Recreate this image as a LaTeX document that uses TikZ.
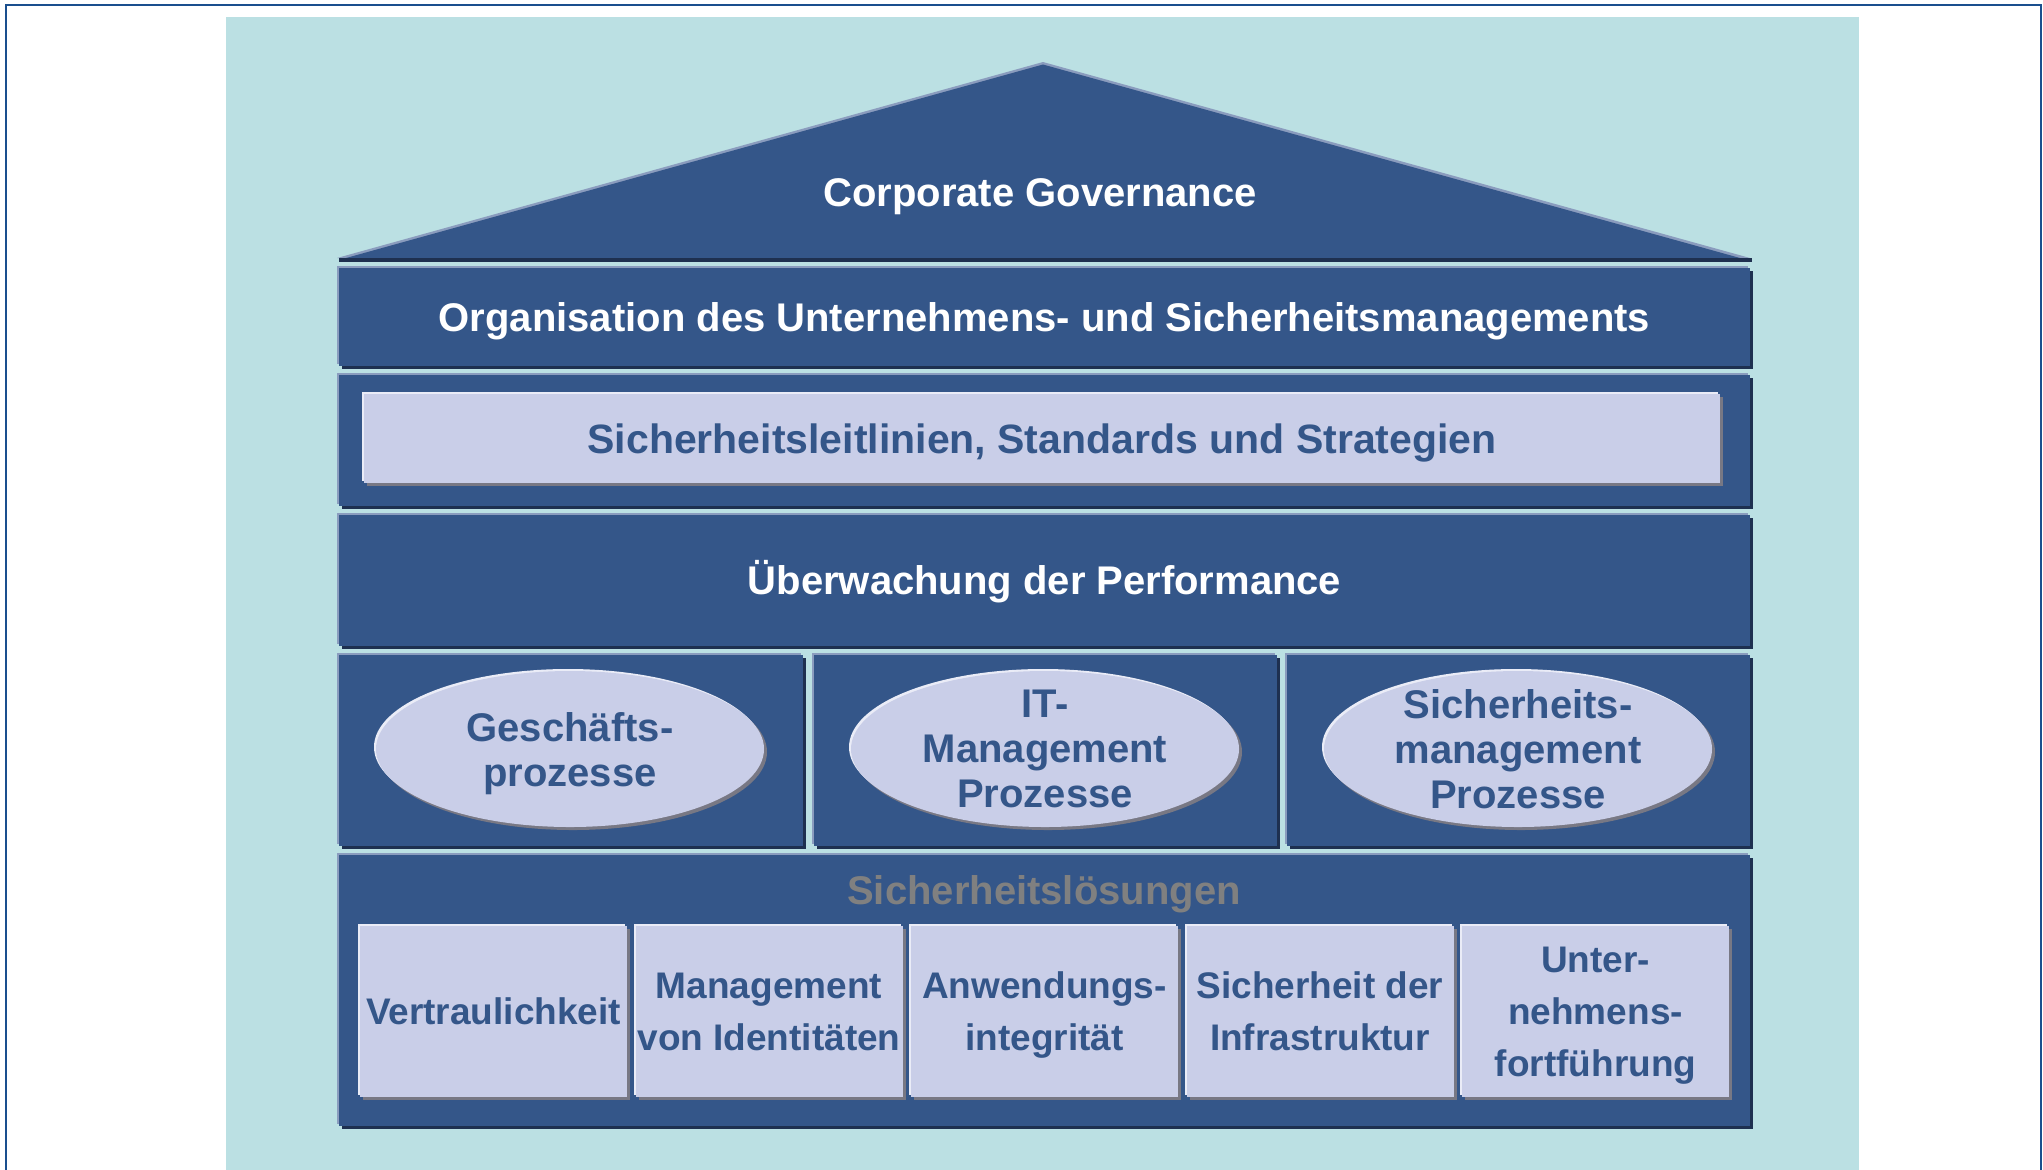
\documentclass[tikz,border=0pt]{standalone}
\usepackage{fontspec}
\setmainfont{Liberation Sans}
\usetikzlibrary{shapes.geometric,shadows}
\definecolor{hdark}{RGB}{52,86,137}
\definecolor{hhl}{RGB}{138,156,190}
\definecolor{hshade}{RGB}{30,48,80}
\definecolor{hlight}{RGB}{201,206,232}
\definecolor{lhl}{RGB}{234,236,247}
\definecolor{lshade}{RGB}{120,120,132}
\definecolor{teal0}{RGB}{187,224,227}
\definecolor{framec}{RGB}{26,79,142}
\definecolor{graytext}{RGB}{128,128,128}
\tikzset{
  darkband/.style={rectangle, anchor=north west, inner sep=0pt, outer sep=0pt,
    fill=hdark, text=white,
    general shadow={fill=hshade, shadow xshift=1.5pt, shadow yshift=-1.5pt},
    general shadow={fill=hhl, shadow xshift=-1pt, shadow yshift=1pt}},
  lightbox/.style={rectangle, anchor=north west, inner sep=0pt, outer sep=0pt,
    fill=hlight, text=hdark,
    general shadow={fill=lshade, shadow xshift=1.5pt, shadow yshift=-1.5pt},
    general shadow={fill=lhl, shadow xshift=-1pt, shadow yshift=1pt}},
  lightell/.style={ellipse, inner sep=0pt, outer sep=0pt,
    minimum width=194pt, minimum height=78pt, fill=hlight,
    general shadow={fill=lshade, shadow xshift=1.5pt, shadow yshift=-1.5pt},
    general shadow={fill=lhl, shadow xshift=-1pt, shadow yshift=1pt}},
  elltxt/.style={inner sep=0pt, text=hdark, align=center, text depth=0pt,
    font=\bfseries\fontsize{20}{22.5}\selectfont},
  bigtxt/.style={font=\bfseries\fontsize{20}{24}\selectfont, text height=14.32pt, text depth=0pt},
  bigtxtb/.style={font=\bfseries\fontsize{20.5}{24}\selectfont, text height=14.68pt, text depth=0pt},
  boxtxt/.style={font=\bfseries\fontsize{18.5}{26}\selectfont, align=center, text depth=0pt},
}
\begin{document}
\begin{tikzpicture}[x=0.5pt,y=-0.5pt]
\useasboundingbox (0,0) rectangle (2043,1169);
\clip (0,0) rectangle (2043,1169);
\fill[white] (0,0) rectangle (2043,1169);
\fill[teal0] (226,17) rectangle (1859,1190);
\draw[framec, line width=1.2pt] (6,5) rectangle (2041,1220);
% roof
\fill[hhl] (337,258) -- (1043,62) -- (1750,258) -- cycle;
\fill[hdark] (346,258) -- (1043,64.5) -- (1740,258) -- cycle;
\fill[hshade] (339,258) rectangle (1752,262);
\node[text=white, bigtxt] (cg) at (1040,192) {Corporate Governance};
% bands
\node[darkband, bigtxt, minimum width=705.5pt, minimum height=49pt] (org) at (339,268)
  {Organisation des Unternehmens- und Sicherheitsmanagements};
\node[darkband, minimum width=705.5pt, minimum height=65.5pt] (pol) at (339,375) {};
\node[lightbox, bigtxtb, minimum width=678pt, minimum height=44.5pt] (polin) at (364,394)
  {Sicherheitsleitlinien, Standards und Strategien};
\node[darkband, bigtxt, minimum width=705.5pt, minimum height=65.5pt] (perf) at (339,515)
  {Überwachung der Performance};
% process cells
\node[darkband, minimum width=232pt, minimum height=95.5pt] (c1) at (339,655) {};
\node[darkband, minimum width=231.5pt, minimum height=95.5pt] (c2) at (814,655) {};
\node[darkband, minimum width=231.5pt, minimum height=95.5pt] (c3) at (1287,655) {};
\node[lightell] (e1) at (570,749) {};
\node[lightell] (e2) at (1045,749) {};
\node[lightell] (e3) at (1518,749) {};
\node[elltxt] (e1t) at (e1) {Geschäfts-\\prozesse};
\node[elltxt] (e2t) at (e2) {IT-\\Management\\Prozesse};
\node[elltxt] (e3t) at (e3) {Sicherheits-\\management\\Prozesse};
% solutions
\node[darkband, minimum width=705.5pt, minimum height=135.5pt] (sol) at (339,855) {};
\node[text=graytext, bigtxt] (soltitle) at (1044,890) {Sicherheitslösungen};
\node[lightbox, boxtxt, minimum width=133.5pt, minimum height=85.5pt] (b1) at (360,926) {Vertraulichkeit};
\node[lightbox, boxtxt, minimum width=133.5pt, minimum height=85.5pt] (b2) at (635.5,926) {Management\\von Identitäten};
\node[lightbox, boxtxt, minimum width=133.5pt, minimum height=85.5pt] (b3) at (911,926) {Anwendungs-\\integrität};
\node[lightbox, boxtxt, minimum width=133.5pt, minimum height=85.5pt] (b4) at (1186.5,926) {Sicherheit der\\Infrastruktur};
\node[lightbox, boxtxt, minimum width=133.5pt, minimum height=85.5pt] (b5) at (1462,926) {Unter-\\nehmens-\\fortführung};
\end{tikzpicture}
\end{document}
